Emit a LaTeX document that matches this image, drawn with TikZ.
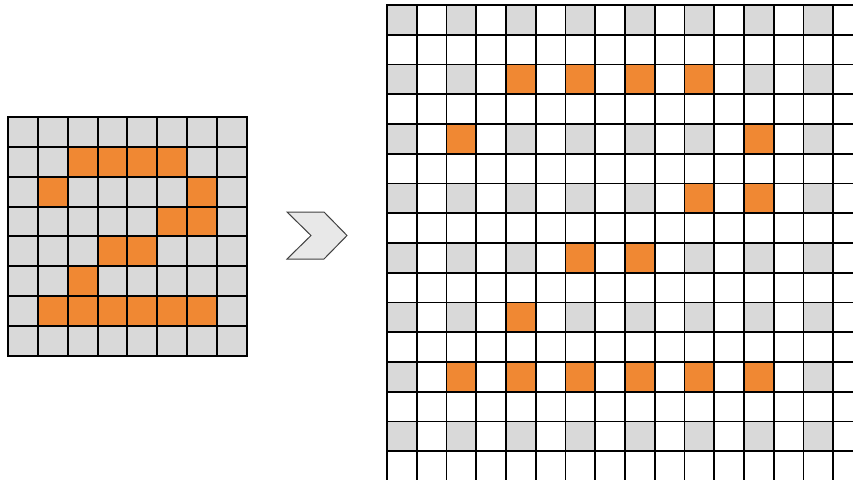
\documentclass[tikz,border=0pt]{standalone}
\definecolor{cellgray}{HTML}{D9D9D9}
\definecolor{cellorange}{HTML}{F08833}
\definecolor{chevfill}{HTML}{E8E8E8}
\definecolor{chevline}{HTML}{404040}
\tikzset{
  gridline/.style={line width=1.9pt,black},
  graycell/.style={fill=cellgray},
  orangecell/.style={fill=cellorange},
  chevron/.style={fill=chevfill,draw=chevline,line width=1pt,line join=miter}
}
\begin{document}
\begin{tikzpicture}[x=1pt,y=-1pt]
\useasboundingbox (0,0) rectangle (853,479);
% ---------- left grid ----------
\def\lx{8}\def\ly{117}\def\ls{29.85}
\fill[graycell] (\lx,\ly) rectangle ++(8*\ls,8*\ls);
\foreach \r/\c in {1/2,1/3,1/4,1/5,2/1,2/6,3/5,3/6,4/3,4/4,5/2,6/1,6/2,6/3,6/4,6/5,6/6}{
  \fill[orangecell] ({\lx+\c*\ls},{\ly+\r*\ls}) rectangle ++(\ls,\ls);
}
\foreach \i in {0,...,8}{
  \draw[gridline,line cap=rect] ({\lx+\i*\ls},\ly) -- ({\lx+\i*\ls},{\ly+8*\ls});
  \draw[gridline,line cap=rect] (\lx,{\ly+\i*\ls}) -- ({\lx+8*\ls},{\ly+\i*\ls});
}
% ---------- chevron ----------
\draw[chevron] (287,212) -- (324,212) -- (347,235.5) -- (324,259) -- (287,259) -- (311,235.5) -- cycle;
% ---------- right grid ----------
\begin{scope}
\clip (0,0) rectangle (853,479);
\def\rx{387}\def\ry{5}\def\rs{29.75}
\foreach \r in {0,2,...,14}{
  \foreach \c in {0,2,...,14}{
    \fill[graycell] ({\rx+\c*\rs},{\ry+\r*\rs}) rectangle ++(\rs,\rs);
  }
}
\foreach \r/\c in {1/2,1/3,1/4,1/5,2/1,2/6,3/5,3/6,4/3,4/4,5/2,6/1,6/2,6/3,6/4,6/5,6/6}{
  \fill[orangecell] ({\rx+2*\c*\rs},{\ry+2*\r*\rs}) rectangle ++(\rs,\rs);
}
\foreach \i in {0,...,16}{
  \draw[gridline,line cap=rect] ({\rx+\i*\rs},\ry) -- ({\rx+\i*\rs},{\ry+16*\rs});
  \draw[gridline,line cap=rect] (\rx,{\ry+\i*\rs}) -- ({\rx+16*\rs},{\ry+\i*\rs});
}
\end{scope}
\end{tikzpicture}
\end{document}
